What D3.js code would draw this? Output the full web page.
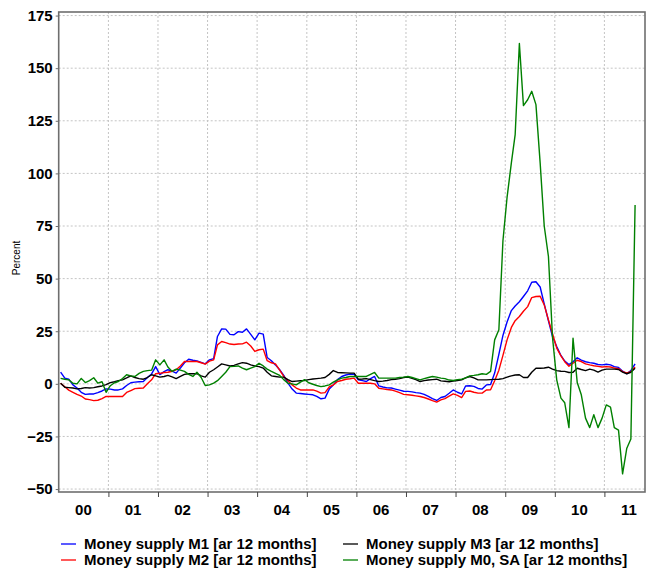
<!DOCTYPE html>
<html>
<head>
<meta charset="utf-8">
<script src="https://cdnjs.cloudflare.com/ajax/libs/d3/7.8.5/d3.min.js"></script>
<style>
  body { margin: 0; background: #fff; }
  svg text { font-family: "Liberation Sans", Arial, sans-serif; }
  .lbl { font-weight: bold; font-size: 15px; fill: #000; }
  .grid line { stroke: #c4c4c4; stroke-width: 1; stroke-dasharray: 2,2; }
</style>
</head>
<body>
<div id="chart"></div>
<script>

// monthly series, Jan 2000 .. Aug 2011 (percent change on 12 months)
var startYear = 2000;

var m1Values = [
  5.6, 2.7, 2.2, -0.5, -2.0, -4.0, -5.0, -4.8, -4.8, -4.2, -3.4, -2.4,
  -2.5, -2.9, -2.9, -2.4, -0.8, 0.5, 0.8, 1.0, 1.1, 3.0, 4.7, 8.2,
  4.4, 5.8, 6.7, 6.0, 5.1, 7.5, 10.0, 11.7, 11.2, 10.9, 10.2, 9.5,
  11.4, 12.0, 22.5, 26.1, 26.0, 23.5, 23.3, 24.8, 24.5, 26.1, 23.5, 20.9,
  24.1, 23.6, 12.5, 11.0, 9.0, 6.7, 4.0, 0.3, -2.5, -4.4, -4.6, -4.8,
  -5.0, -5.2, -6.0, -7.1, -6.8, -2.5, -0.5, 2.0, 3.5, 4.2, 4.6, 4.5,
  1.9, 1.5, 1.1, 2.5, 3.5, -1.0, -1.5, -1.9, -2.0, -2.5, -3.0, -3.5,
  -3.6, -3.8, -4.2, -4.4, -5.0, -6.0, -7.0, -7.9, -6.5, -6.0, -4.5, -2.9,
  -4.0, -4.8, -1.0, -0.9, -1.2, -2.2, -2.5, -0.5, -0.3, 5.1, 14.0, 23.0,
  29.5, 34.8, 37.0, 39.0, 41.5, 44.2, 48.3, 48.5, 46.0, 38.0, 30.0, 22.5,
  17.7, 13.5, 10.8, 9.2, 10.5, 12.4, 11.3, 10.5, 10.1, 9.8, 9.2, 9.0,
  9.3, 9.0, 8.2, 7.8, 6.0, 4.8, 6.3, 9.5
];

var m2Values = [
  0.3, -1.4, -3.0, -4.0, -5.0, -5.8, -7.2, -7.5, -8.0, -7.8, -7.0, -6.0,
  -6.0, -6.0, -6.0, -6.0, -4.1, -3.2, -2.3, -2.1, -2.0, 0.0, 1.9, 4.8,
  5.0, 5.4, 5.5, 6.0, 6.7, 8.5, 10.6, 10.6, 10.6, 10.6, 10.0, 9.4,
  10.8, 11.4, 18.5, 20.1, 19.6, 18.9, 18.7, 18.9, 19.0, 19.8, 18.0, 15.4,
  16.2, 16.5, 11.0, 10.0, 9.5, 6.5, 3.5, 1.5, -0.5, -2.0, -2.9, -2.9,
  -2.9, -2.9, -3.5, -4.4, -4.2, -1.5, -0.5, 1.1, 1.6, 2.2, 2.4, 2.7,
  0.3, 0.3, 0.3, 0.3, 0.0, -2.1, -2.4, -2.7, -2.9, -3.5, -4.2, -5.0,
  -5.2, -5.4, -5.7, -6.0, -6.5, -7.2, -8.0, -8.7, -7.6, -7.0, -5.8, -4.8,
  -5.5, -6.5, -3.6, -3.4, -4.0, -4.4, -4.4, -2.9, -2.8, 1.5, 6.5, 13.5,
  21.0, 26.8, 30.0, 32.0, 34.5, 36.7, 41.0, 41.5, 41.6, 37.5, 30.4, 23.8,
  17.0, 13.3, 10.5, 8.4, 9.8, 11.2, 10.6, 9.5, 9.0, 8.6, 8.3, 8.0,
  8.2, 8.0, 7.5, 7.2, 5.8, 5.2, 5.8, 8.0
];

var m3Values = [
  0.3, -1.6, -1.8, -2.0, -2.4, -2.2, -1.8, -2.0, -1.8, -1.4, -1.0, -0.4,
  0.6, 1.0, 1.5, 1.9, 2.8, 3.8, 3.0, 2.5, 2.2, 3.0, 4.3, 3.8,
  3.2, 3.5, 4.0, 3.3, 2.5, 3.5, 4.5, 4.8, 4.8, 4.8, 3.8, 3.2,
  5.5, 6.7, 8.0, 9.5, 9.0, 8.5, 8.8, 9.5, 10.1, 9.8, 9.0, 8.5,
  8.2, 7.5, 5.5, 3.8, 3.5, 3.2, 3.2, 2.0, 1.1, 1.3, 1.5, 1.6,
  2.0, 2.3, 2.5, 2.7, 3.0, 4.5, 6.3, 5.4, 5.3, 5.2, 5.1, 5.1,
  2.2, 2.3, 2.5, 2.0, 1.5, 1.1, 1.3, 1.6, 2.0, 2.2, 2.5, 3.0,
  3.2, 2.6, 2.0, 1.1, 1.5, 1.8, 2.0, 2.2, 1.4, 1.2, 1.0, 1.3,
  1.6, 1.9, 2.8, 3.5, 2.8, 1.9, 1.9, 1.9, 2.0, 2.1, 2.2, 2.5,
  3.2, 3.8, 4.2, 4.3, 3.0, 3.0, 5.5, 7.4, 7.4, 7.5, 7.9, 7.0,
  6.3, 6.0, 5.9, 5.4, 5.5, 7.4, 6.8, 6.3, 7.0, 6.5, 5.6, 6.5,
  7.0, 7.0, 7.0, 6.8, 5.6, 4.8, 5.5, 7.4
];

var m0Values = [
  2.6, 2.2, 1.9, 0.3, 0.0, 2.6, 0.6, 1.5, 2.9, 0.3, 1.0, -4.0,
  -0.9, 0.5, 1.1, 2.5, 4.3, 3.8, 3.5, 5.0, 5.9, 6.3, 6.5, 11.4,
  9.0, 11.4, 8.0, 5.9, 7.0, 6.5, 5.9, 4.5, 3.5, 5.5, 3.0, -0.8,
  -0.5, 0.3, 1.5, 3.5, 5.5, 8.2, 8.3, 8.5, 7.5, 6.7, 7.5, 8.2,
  9.8, 8.5, 7.0, 5.9, 5.0, 4.0, 2.0, 0.3, 0.0, -0.5, 0.8, 2.0,
  0.5, -0.2, -0.8, -1.3, -1.0, -0.5, 0.8, 1.9, 2.7, 3.0, 3.5, 3.5,
  3.5, 3.5, 3.5, 4.5, 5.4, 2.7, 2.7, 2.7, 2.7, 2.7, 3.0, 3.2,
  3.5, 3.0, 2.5, 1.9, 2.5, 3.0, 3.5, 3.2, 2.7, 2.5, 1.8, 1.6,
  2.0, 2.2, 2.8, 3.8, 4.0, 4.3, 4.8, 4.5, 5.9, 20.9, 25.7, 68.0,
  89.0, 105.0, 118.4, 161.7, 132.2, 135.0, 139.0, 132.7, 105.0, 75.0, 60.5, 22.0,
  1.9, -6.8, -9.0, -20.8, 21.7, 0.6, -5.2, -16.3, -20.8, -14.7, -20.8, -16.3,
  -10.0, -11.1, -20.8, -22.0, -42.8, -30.6, -26.2, 85.0
];

var yTicks = [-50, -25, 0, 25, 50, 75, 100, 125, 150, 175];
var yearLabels = ["00", "01", "02", "03", "04", "05", "06", "07", "08", "09", "10", "11"];

var seriesNames = [
  "Money supply M1 [ar 12 months]",
  "Money supply M2 [ar 12 months]",
  "Money supply M3 [ar 12 months]",
  "Money supply M0, SA [ar 12 months]"
];
var seriesColors = ["#0000ff", "#ff0000", "#000000", "#008000"];

// layout
var W = 647, H = 569;
var plot = {left: 58.7, right: 645, top: 12, bottom: 492};

var svg = d3.select("#chart").append("svg")
  .attr("width", W)
  .attr("height", H);

var x = d3.scaleTime()
  .domain([new Date(2000, 0, 1), new Date(2011, 9, 27)])
  .range([plot.left, plot.right]);

var y = d3.scaleLinear()
  .domain([-51.4, 176.7])
  .range([plot.bottom, plot.top]);

function toPoints(values) {
  return values.map(function(v, i) {
    return {date: new Date(startYear + Math.floor(i / 12), i % 12, 15), value: v};
  });
}

var allSeries = [m1Values, m2Values, m3Values, m0Values].map(toPoints);

var yearStarts = yearLabels.map(function(d, i) { return new Date(startYear + i, 0, 1); });

// grid
var grid = svg.append("g").attr("class", "grid");
grid.selectAll("line.h")
  .data(yTicks)
  .enter().append("line")
  .attr("class", "h")
  .attr("x1", plot.left).attr("x2", plot.right)
  .attr("y1", function(d) { return y(d); })
  .attr("y2", function(d) { return y(d); });

grid.selectAll("line.v")
  .data(yearStarts.slice(1))
  .enter().append("line")
  .attr("class", "v")
  .attr("y1", plot.top).attr("y2", plot.bottom)
  .attr("x1", function(d) { return x(d); })
  .attr("x2", function(d) { return x(d); });

// lines
var line = d3.line()
  .x(function(d) { return x(d.date); })
  .y(function(d) { return y(d.value); });

svg.append("g").selectAll("path")
  .data(allSeries)
  .enter().append("path")
  .attr("d", line)
  .attr("fill", "none")
  .attr("stroke", function(d, i) { return seriesColors[i]; })
  .attr("stroke-width", 1.4)
  .attr("stroke-linejoin", "round");

// frame
svg.append("rect")
  .attr("x", plot.left).attr("y", plot.top)
  .attr("width", plot.right - plot.left)
  .attr("height", plot.bottom - plot.top)
  .attr("fill", "none")
  .attr("stroke", "#6e6e6e")
  .attr("stroke-width", 1.6);

// y axis
var yAxis = svg.append("g")
  .attr("transform", "translate(" + plot.left + ",0)")
  .call(d3.axisLeft(y).tickValues(yTicks).tickSize(3).tickPadding(3));
yAxis.select(".domain").remove();
yAxis.selectAll(".tick line").attr("stroke", "#6e6e6e");
yAxis.selectAll(".tick text").attr("class", "lbl").attr("font-size", null).attr("font-family", null);

// x axis: ticks at year boundaries, labels centred in each year
var xAxis = svg.append("g")
  .attr("transform", "translate(0," + plot.bottom + ")")
  .call(d3.axisBottom(x).tickValues(yearStarts.slice(1)).tickSize(5).tickFormat(""));
xAxis.select(".domain").remove();
xAxis.selectAll(".tick line").attr("stroke", "#444");

svg.append("g").selectAll("text")
  .data(yearLabels)
  .enter().append("text")
  .attr("class", "lbl")
  .attr("text-anchor", "middle")
  .attr("x", function(d, i) { return x(new Date(startYear + i, 6, 1)); })
  .attr("y", 515)
  .text(function(d) { return d; });

svg.append("text")
  .attr("transform", "translate(20,258) rotate(-90)")
  .attr("text-anchor", "middle")
  .attr("font-size", "10px")
  .text("Percent");

// legend, two columns
var legendPos = [[61, 544], [61, 560], [343, 544], [343, 560]];
var legend = svg.append("g").selectAll("g")
  .data(seriesNames)
  .enter().append("g")
  .attr("transform", function(d, i) { return "translate(" + legendPos[i][0] + "," + legendPos[i][1] + ")"; });

legend.append("line")
  .attr("x1", 0).attr("x2", 15)
  .attr("stroke", function(d, i) { return seriesColors[i]; })
  .attr("stroke-width", 1.3);

legend.append("text")
  .attr("class", "lbl")
  .attr("x", 23)
  .attr("y", 5)
  .text(function(d) { return d; });

</script>
</body>
</html>
